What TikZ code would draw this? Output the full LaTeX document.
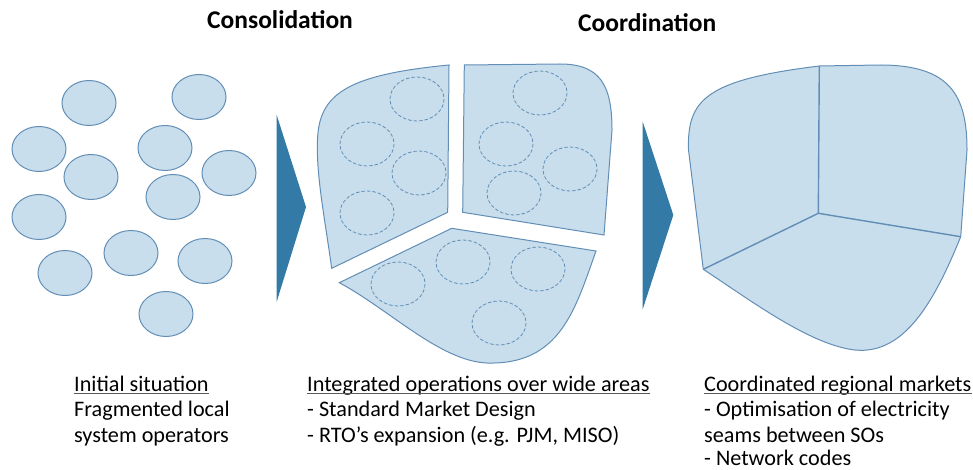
\documentclass[tikz,border=0pt]{standalone}
\usepackage{fontspec}
\setmainfont{Carlito}
\definecolor{areafill}{RGB}{200,222,236}
\definecolor{arealine}{RGB}{98,142,182}
\definecolor{arrowblue}{RGB}{52,122,166}

\begin{document}
\begin{tikzpicture}[x=1pt,y=-1pt,
		area/.style={draw=arealine,fill=areafill,line width=1pt},
		oldop/.style={draw=arealine,dashed,dash pattern=on 3.5pt off 2pt,line width=0.8pt},
		push/.style={fill=arrowblue},
		seam/.style={draw=arealine,line width=1.4pt},
		heading/.style={font=\fontsize{25.5}{30}\selectfont\bfseries,anchor=base west,inner sep=0},
		txt/.style={font=\fontsize{22.2}{26}\selectfont,anchor=base west,inner sep=0},
		uline/.style={draw=black!65,line width=1.1pt}]
	\useasboundingbox (0,0) rectangle (973,470);
	
	% Titles
	\node[heading] (consol) at (207,29) {Consolidation};
	\node[heading] (coord) at (578,32) {Coordination};
	
	% Local operators
	\foreach \x/\y in {89/103, 199/97, 39/149, 165/148, 91/177, 229/173, 173/197, 39/217, 131/253, 65/273, 205/261, 166/314} {
		\draw[area] (\x,\y) ellipse (27 and 22.5);
	}
	
	% Arrows
	\fill[push] (276.7,115) -- (306,207) -- (276.7,301.7) -- cycle;
	\fill[push] (642.7,121.7) -- (673.3,215) -- (642.7,309.3) -- cycle;
	
	% Wide areas
	\draw[area] (449,65) -- (447.7,212.3) -- (331.7,268.3)
		.. controls (325,220) and (316,175) .. (317.5,140)
		.. controls (319,95) and (345,75) .. cycle;
	\draw[area] (464.3,65) -- (560,64) .. controls (600,64) and (612,85) .. (612,130)
		-- (604,235) -- (462.7,212.3) -- cycle;
	\draw[area] (451.7,228.3) -- (596,251) .. controls (575,310) and (560,365) .. (487,363)
		.. controls (440,361) and (390,310) .. (339.3,282.7) -- cycle;
	\foreach \x/\y in {417/99, 367/144, 419/173, 367/213, 540/93, 506/144, 570/169, 514/193, 463/262, 398/284, 538/269, 499/323} {
		\draw[oldop] (\x,\y) ellipse (27 and 22);
	}
	
	% Regional market
	\coordinate (mid) at (818.3,213.3);
	\coordinate (top) at (819.3,66);
	\coordinate (lft) at (703.3,269.3);
	\coordinate (rgt) at (960.7,236.7);
	\draw[area] (lft) -- (688.5,150) .. controls (687,100) and (705,80) .. (top)
		-- (880,65) .. controls (950,65) and (967,95) .. (967,150) -- (rgt)
		.. controls (935,300) and (905,355) .. (855,350)
		.. controls (810,345) and (750,300) .. (lft);
	\draw[seam] (mid) -- (top);
	\draw[seam] (mid) -- (lft);
	\draw[seam] (mid) -- (rgt);
	
	% Captions
	\node[txt] (initial) at (74,391) {Initial situation};
	\node[txt] (integrated) at (307,391) {Integrated operations over wide areas};
	\node[txt] (coordinated) at (704,391) {Coordinated regional markets};
	\foreach \n in {initial,integrated,coordinated} {
		\draw[uline] ([yshift=-2.5pt]\n.base west) -- ([yshift=-2.5pt]\n.base east);
	}
	\foreach \y/\txt [count=\i] in {416.5/Fragmented local, 442/system operators} {
		\node[txt] (initial\i) at (74,\y) {\txt};
	}
	\foreach \y/\txt [count=\i] in {416.5/- Standard Market Design, 442/{- RTO’s expansion (e.g. PJM, MISO)}} {
		\node[txt] (integrated\i) at (307,\y) {\txt};
	}
	\foreach \y/\txt [count=\i] in {416.5/- Optimisation of electricity, 442/seams between SOs, 465.5/- Network codes} {
		\node[txt] (coordinated\i) at (704,\y) {\txt};
	}
\end{tikzpicture}
\end{document}
